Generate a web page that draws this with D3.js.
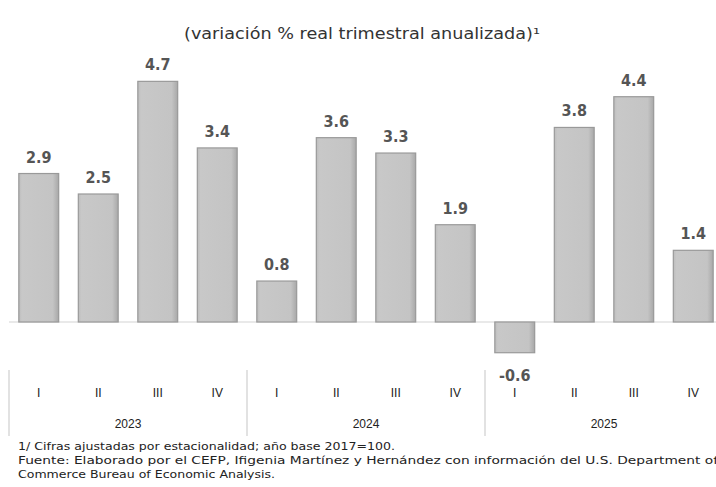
<!DOCTYPE html>
<html><head><meta charset="utf-8">
<script src="https://cdn.jsdelivr.net/npm/d3@7"></script>
<style>body{margin:0;background:#fff}svg{display:block}</style>
</head><body>
<svg id="c" width="716" height="487"></svg>
<script>
const quarters = ["I","II","III","IV","I","II","III","IV","I","II","III","IV"];
const years = ["2023","2024","2025"];
const values = [2.9, 2.5, 4.7, 3.4, 0.8, 3.6, 3.3, 1.9, -0.6, 3.8, 4.4, 1.4];
const titleText = "(variación % real trimestral anualizada)\u00B9";
const notes = [
  "1/ Cifras ajustadas por estacionalidad; año base 2017=100.",
  "Fuente: Elaborado por el CEFP, Ifigenia Martínez y Hernández con información del U.S. Department of",
  "Commerce Bureau of Economic Analysis."
];

const svg = d3.select("#c");
const keys = values.map((v,i)=>i);
const x = d3.scaleBand().domain(keys).range([9, 723]).paddingInner(0.33).paddingOuter(0.165);
const y = d3.scaleLinear().domain([-1, 5]).range([322 + 51.2, 322 - 5*51.2]);

const defs = svg.append("defs");
const g = defs.append("linearGradient").attr("id","bg").attr("x1","0").attr("x2","1").attr("y1","0").attr("y2","0");
g.append("stop").attr("offset","0").attr("stop-color","#bdbdbd");
g.append("stop").attr("offset","0.08").attr("stop-color","#c8c8c8");
g.append("stop").attr("offset","0.85").attr("stop-color","#c4c4c4");
g.append("stop").attr("offset","1").attr("stop-color","#a8a8a8");

svg.append("text").attr("x", 362).attr("y", 39).attr("text-anchor","middle")
  .attr("font-family","'DejaVu Sans', sans-serif").attr("font-size",15).attr("fill","#333")
  .attr("textLength", 356).attr("lengthAdjust","spacingAndGlyphs").text(titleText);

// zero line
svg.append("line").attr("x1",9).attr("x2",716).attr("y1",y(0)).attr("y2",y(0))
  .attr("stroke","#d4d4d4").attr("stroke-width",1.2);

// bars
svg.selectAll("rect.bar").data(values).enter().append("rect").attr("class","bar")
  .attr("x",(d,i)=>x(i)).attr("width",x.bandwidth())
  .attr("y",d=>y(Math.max(0,d))).attr("height",d=>Math.abs(y(d)-y(0)))
  .attr("fill","url(#bg)").attr("stroke","#999").attr("stroke-width",1.2);

// value labels
svg.selectAll("text.val").data(values).enter().append("text").attr("class","val")
  .attr("x",(d,i)=>x(i)+x.bandwidth()/2)
  .attr("y",d=> d>=0 ? y(d)-11 : y(d)+28)
  .attr("text-anchor","middle")
  .attr("font-family","'DejaVu Sans Condensed','DejaVu Sans',sans-serif").attr("font-weight","bold")
  .attr("font-size",16).attr("fill","#555")
  .text(d=>d.toFixed(1));

// category axis
const step = x.step();
svg.selectAll("text.q").data(quarters).enter().append("text").attr("class","q")
  .attr("x",(d,i)=>x(i)+x.bandwidth()/2).attr("y",397).attr("text-anchor","middle")
  .attr("font-family","'Liberation Sans',Arial,sans-serif").attr("font-size",12).attr("fill","#222")
  .text(d=>d);
svg.selectAll("text.yr").data(years).enter().append("text").attr("class","yr")
  .attr("x",(d,i)=>x(i*4) - x.step()*x.paddingOuter() + step*2).attr("y",428).attr("text-anchor","middle")
  .attr("font-family","'Liberation Sans',Arial,sans-serif").attr("font-size",12).attr("fill","#222")
  .text(d=>d);
const seps = d3.range(years.length+1).map(i=>9 + i*4*step);
svg.selectAll("line.sep").data(seps).enter().append("line").attr("class","sep")
  .attr("x1",d=>d).attr("x2",d=>d).attr("y1",370).attr("y2",436)
  .attr("stroke","#cfcfcf").attr("stroke-width",1.2);

// notes
const nl = [[18,450,377],[18,464,700],[18,478,257]];
svg.selectAll("text.note").data(notes).enter().append("text").attr("class","note")
  .attr("x",(d,i)=>nl[i][0]).attr("y",(d,i)=>nl[i][1])
  .attr("font-family","'DejaVu Sans',sans-serif").attr("font-size",10.5).attr("fill","#222")
  .attr("textLength",(d,i)=>nl[i][2]).attr("lengthAdjust","spacingAndGlyphs")
  .text(d=>d);
</script>
</body></html>
